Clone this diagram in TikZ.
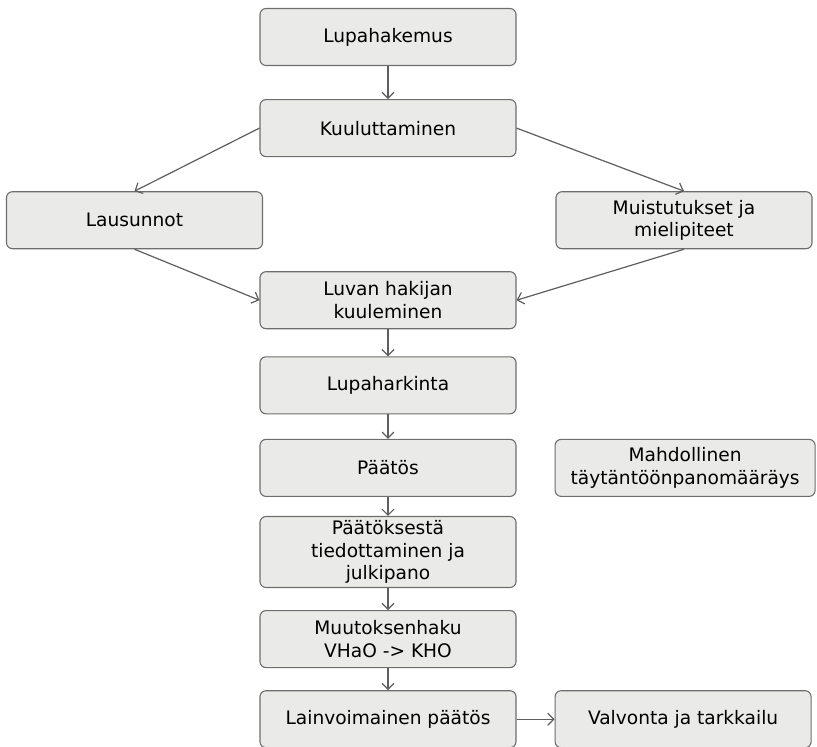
\documentclass[tikz,border=0pt]{standalone}
\usepackage{fontspec}
\setmainfont{DejaVu Sans}
\usepackage{xcolor}
\usepackage{tikz}
\usetikzlibrary{arrows.meta,positioning}
\definecolor{boxfill}{HTML}{EAEAE8}
\definecolor{boxline}{HTML}{6E6E6E}
\definecolor{arrowgray}{HTML}{5E5E5E}

\begin{document}
\begin{tikzpicture}[
  font=\fontsize{18.6pt}{22.5pt}\selectfont,
  stage/.style={draw=boxline, line width=1.1pt, rounded corners=6pt, fill=boxfill,
    align=center, minimum width=256pt, minimum height=57pt, inner sep=4pt},
  flow/.style={-{Straight Barb[length=6pt, width=12pt]}, draw=arrowgray, line width=1.2pt}
]
\useasboundingbox (0pt,0pt) rectangle (817pt,-747pt);

\node[stage] (hakemus) at (388pt,-37pt) {Lupahakemus};
\node[stage, below=33pt of hakemus] (kuulutus) {Kuuluttaminen};

\node[stage, below=34pt of kuulutus, xshift=-253.5pt] (lausunnot) {Lausunnot};
\node[stage, below=34pt of kuulutus, xshift=296pt] (muistutukset) {Muistutukset ja\\ mielipiteet};

\node[stage, below=114pt of kuulutus] (kuuleminen) {Luvan hakijan\\ kuuleminen};
\node[stage, below=27pt of kuuleminen] (harkinta) {Lupaharkinta};
\node[stage, below=24.5pt of harkinta] (paatos) {Päätös};
\node[stage, right=38pt of paatos, minimum width=260pt] (taytanto) {Mahdollinen\\ täytäntöönpanomääräys};
\node[stage, below=19pt of paatos] (tiedotus) {Päätöksestä\\ tiedottaminen ja\\ julkipano};
\node[stage, below=22pt of tiedotus] (muutos) {Muutoksenhaku\\ VHaO -> KHO};
\node[stage, below=22pt of muutos] (lainvoima) {Lainvoimainen päätös};
\node[stage, right=38pt of lainvoima] (valvonta) {Valvonta ja tarkkailu};

\draw[flow] (hakemus) -- (kuulutus);
\draw[flow] (kuulutus.west) -- (lausunnot.north);
\draw[flow] (kuulutus.east) -- (muistutukset.north);
\draw[flow] (lausunnot.south) -- (kuuleminen.west);
\draw[flow] (muistutukset.south) -- (kuuleminen.east);
\draw[flow] (kuuleminen) -- (harkinta);
\draw[flow] (harkinta) -- (paatos);
\draw[flow] (paatos) -- (tiedotus);
\draw[flow] (tiedotus) -- (muutos);
\draw[flow] (muutos) -- (lainvoima);
\draw[flow] (lainvoima) -- (valvonta);
\end{tikzpicture}
\end{document}
